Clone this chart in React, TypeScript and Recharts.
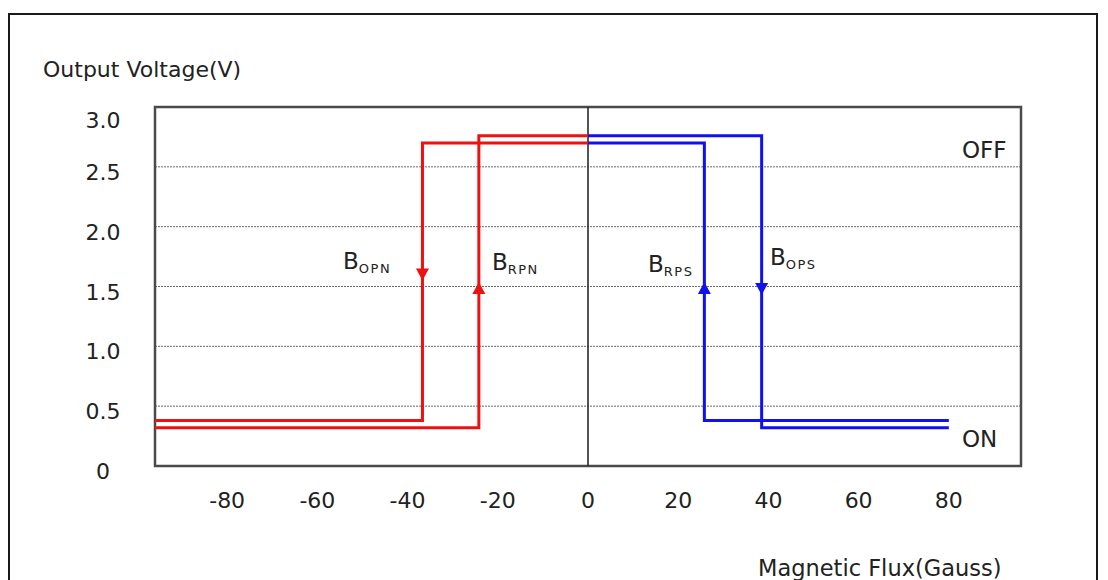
import React from 'react';
import {
  ComposedChart,
  Line,
  Scatter,
  XAxis,
  YAxis,
  CartesianGrid,
  ReferenceLine,
  ReferenceArea,
} from 'recharts';

// ---- data ----
const xTicks = [-80, -60, -40, -20, 0, 20, 40, 60, 80];
const yTicks = [0, 0.5, 1, 1.5, 2, 2.5, 3];
const yTickLabels = ['0', '0.5', '1.0', '1.5', '2.0', '2.5', '3.0'];

// red: north pole operate / release
const redBOPN = [
  { x: -96, y: 0.38 },
  { x: -36.7, y: 0.38 },
  { x: -36.7, y: 2.7 },
  { x: 0, y: 2.7 },
];
const redBRPN = [
  { x: -96, y: 0.32 },
  { x: -24.2, y: 0.32 },
  { x: -24.2, y: 2.76 },
  { x: 0, y: 2.76 },
];
// blue: south pole release / operate
const blueBRPS = [
  { x: 0, y: 2.7 },
  { x: 25.8, y: 2.7 },
  { x: 25.8, y: 0.38 },
  { x: 80, y: 0.38 },
];
const blueBOPS = [
  { x: 0, y: 2.76 },
  { x: 38.5, y: 2.76 },
  { x: 38.5, y: 0.32 },
  { x: 80, y: 0.32 },
];

const redArrows = [
  { x: -36.7, y: 1.6, dir: 'down' },
  { x: -24.2, y: 1.487, dir: 'up' },
];
const blueArrows = [
  { x: 25.8, y: 1.487, dir: 'up' },
  { x: 38.5, y: 1.479, dir: 'down' },
];

const pointLabels = [
  { x: -54.3, y: 1.646, main: 'B', sub: 'OPN' },
  { x: -21.3, y: 1.638, main: 'B', sub: 'RPN' },
  { x: 13.3, y: 1.625, main: 'B', sub: 'RPS' },
  { x: 40.35, y: 1.68, main: 'B', sub: 'OPS' },
  { x: 82.9, y: 2.574, main: 'OFF', sub: '' },
  { x: 82.9, y: 0.159, main: 'ON', sub: '' },
];

const yTitle = 'Output Voltage(V)';
const xTitle = 'Magnetic Flux(Gauss)';

// ---- styles ----
const FONT = '"DejaVu Sans", Verdana, sans-serif';
const TEXT = '#222';
const RED = '#ee1111';
const BLUE = '#1111ee';

const makeArrow = (color: string) => (props: any) => {
  const { cx, cy, payload } = props;
  if (cx == null || cy == null) return <g />;
  const w = 6.5;
  const h = 6;
  const pts =
    payload.dir === 'down'
      ? `${cx - w},${cy - h} ${cx + w},${cy - h} ${cx},${cy + h}`
      : `${cx - w},${cy + h} ${cx + w},${cy + h} ${cx},${cy - h}`;
  return <polygon points={pts} fill={color} />;
};

const LabelShape = (props: any) => {
  const { cx, cy, payload } = props;
  if (cx == null || cy == null) return <g />;
  return (
    <text x={cx} y={cy} fontFamily={FONT} fontSize={23} fill={TEXT}>
      <tspan>{payload.main}</tspan>
      {payload.sub ? (
        <tspan fontSize={13} dy={4} letterSpacing={1.5}>
          {payload.sub}
        </tspan>
      ) : null}
    </text>
  );
};

const YTick = (props: any) => {
  const { x, y, payload } = props;
  const idx = yTicks.indexOf(payload.value);
  const label = idx >= 0 ? yTickLabels[idx] : String(payload.value);
  const off = payload.value === 3 ? 21 : 13;
  return (
    <text x={x} y={y + off} textAnchor="middle" fontFamily={FONT} fontSize={22} fill={TEXT}>
      {label}
    </text>
  );
};

const XTick = (props: any) => {
  const { x, y, payload } = props;
  return (
    <text x={x} y={y} textAnchor="middle" fontFamily={FONT} fontSize={22} fill={TEXT}>
      {String(payload.value)}
    </text>
  );
};

export default function App() {
  return (
    <div style={{ position: 'relative', width: 1108, height: 580, overflow: 'hidden', background: '#fff' }}>
      <style>{`html,body{margin:0;padding:0;overflow:hidden;background:#fff}`}</style>
      <div
        style={{
          position: 'absolute',
          left: 8,
          top: 13,
          width: 1090,
          height: 620,
          boxSizing: 'border-box',
          border: '2.5px solid #1a1a1a',
        }}
      />
      <div style={{ position: 'absolute', left: 0, top: 0 }}>
        <ComposedChart
          width={1108}
          height={580}
          margin={{ top: 107, right: 87, bottom: 54, left: 0 }}
        >
          <CartesianGrid
            vertical={false}
            stroke="#6a6a6a"
            strokeDasharray="2 1"
          />
          <XAxis
            type="number"
            dataKey="x"
            domain={[-96, 96]}
            ticks={xTicks}
            height={60}
            axisLine={false}
            tickLine={false}
            tickSize={0}
            tickMargin={42}
            tick={<XTick />}
            interval={0}
            allowDataOverflow
          />
          <YAxis
            type="number"
            dataKey="y"
            domain={[0, 3]}
            ticks={yTicks}
            width={155}
            axisLine={false}
            tickLine={false}
            tickSize={0}
            tickMargin={52}
            tick={<YTick />}
            interval={0}
            allowDataOverflow
          />
          <ReferenceArea
            x1={-96}
            x2={96}
            y1={0}
            y2={3}
            fill="none"
            fillOpacity={0}
            stroke="#4a4a4a"
            strokeWidth={2.5}
            ifOverflow="visible"
          />
          <ReferenceLine x={0} stroke="#2a2a2a" strokeWidth={1.6} />
          <Line data={redBOPN} dataKey="y" type="linear" stroke={RED} strokeWidth={3} dot={false} activeDot={false} isAnimationActive={false} />
          <Line data={redBRPN} dataKey="y" type="linear" stroke={RED} strokeWidth={3} dot={false} activeDot={false} isAnimationActive={false} />
          <Line data={blueBRPS} dataKey="y" type="linear" stroke={BLUE} strokeWidth={3} dot={false} activeDot={false} isAnimationActive={false} />
          <Line data={blueBOPS} dataKey="y" type="linear" stroke={BLUE} strokeWidth={3} dot={false} activeDot={false} isAnimationActive={false} />
          <Scatter data={redArrows} dataKey="y" shape={makeArrow(RED)} isAnimationActive={false} />
          <Scatter data={blueArrows} dataKey="y" shape={makeArrow(BLUE)} isAnimationActive={false} />
          <Scatter data={pointLabels} dataKey="y" shape={LabelShape} isAnimationActive={false} />
        </ComposedChart>
      </div>
      <svg
        width={1108}
        height={580}
        style={{ position: 'absolute', left: 0, top: 0, pointerEvents: 'none' }}
      >
        <text x={43} y={77} fontFamily={FONT} fontSize={22} fill={TEXT}>
          {yTitle}
        </text>
        <text x={758} y={576} fontFamily={FONT} fontSize={22.5} fill={TEXT}>
          {xTitle}
        </text>
      </svg>
    </div>
  );
}
